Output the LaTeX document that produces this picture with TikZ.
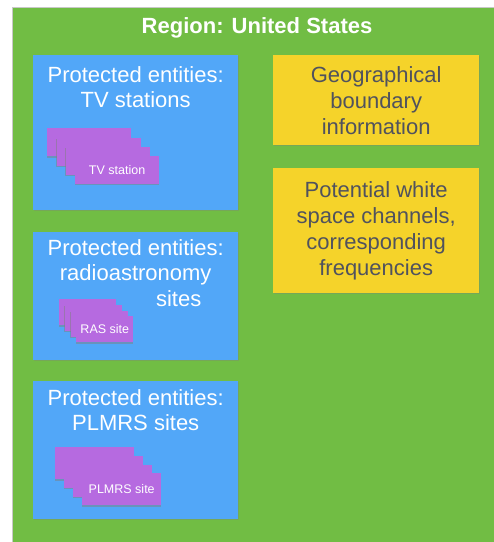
\documentclass[tikz,border=0pt]{standalone}
\usepackage{fontspec}
\setmainfont{Liberation Sans}
\usetikzlibrary{positioning, shadows}
\definecolor{regionGreen}{RGB}{113, 189, 68}
\definecolor{entityBlue}{RGB}{82, 167, 248}
\definecolor{infoYellow}{RGB}{245, 211, 42}
\definecolor{cardPurple}{RGB}{182, 106, 224}
\definecolor{textDark}{RGB}{80, 82, 94}
\definecolor{edgeGray}{RGB}{200, 200, 200}

\begin{document}
\begin{tikzpicture}[
    x=1pt, y=-1pt,
    region/.style={
        rectangle,
        fill=regionGreen,
        draw=edgeGray,
        line width=0.8pt
    },
    entitybox/.style={
        rectangle,
        anchor=north west,
        inner sep=0pt,
        minimum width=205pt,
        fill=entityBlue,
        drop shadow={shadow xshift=0.6pt, shadow yshift=-1.2pt, opacity=0.35}
    },
    entitytitle/.style={
        anchor=north,
        inner sep=0pt,
        align=center,
        text=white,
        font=\fontsize{22}{25.5}\selectfont
    },
    infobox/.style={
        rectangle,
        anchor=north west,
        inner sep=0pt,
        minimum width=206pt,
        align=center,
        fill=infoYellow,
        text=textDark,
        font=\fontsize{22}{26}\selectfont,
        drop shadow={shadow xshift=0.6pt, shadow yshift=-1.2pt, opacity=0.35}
    },
    card/.style={
        rectangle,
        anchor=north west,
        inner sep=0pt,
        fill=cardPurple,
        text=white,
        font=\fontsize{12.5}{14}\selectfont,
        drop shadow={shadow xshift=-0.6pt, shadow yshift=-1.3pt, opacity=0.5}
    },
    tvcard/.style={card, minimum width=84pt, minimum height=28pt},
    rascard/.style={card, minimum width=57pt, minimum height=26pt},
    plmrscard/.style={card, minimum width=79pt, minimum height=32pt}
]
\useasboundingbox (0,0) rectangle (494,542);

% Region background
\fill[white] (0,0) rectangle (494,542);
\node[region, anchor=north west, minimum width=484pt, minimum height=537pt] (us) at (11.5,7) {};
\node[anchor=base, inner sep=0pt, text=white, font=\fontsize{22}{25}\selectfont\bfseries] (usname) at (257,33) {Region: United States};

% Protected entities
\node[entitybox, minimum height=155pt] (tvbox) at (33,55) {};
\node[entitybox, minimum height=128pt] (rasbox) at (33,232) {};
\node[entitybox, minimum height=138pt] (plmrsbox) at (33,381) {};

\node[entitytitle] (tvtitle) at ([yshift=-11pt]tvbox.north) {Protected entities:\\TV stations};
\node[entitytitle] (rastitle) at ([yshift=-7pt]rasbox.north) {Protected entities:\\radioastronomy\\\hspace*{86pt}sites};
\node[entitytitle] (plmrstitle) at ([yshift=-8pt]plmrsbox.north) {Protected entities:\\PLMRS sites};

% Stacked cards
\node[tvcard] (tv1) at (47,128) {};
\node[tvcard] (tv2) at ([shift={(9.3,9.3)}]tv1.north west) {};
\node[tvcard] (tv3) at ([shift={(9.3,9.3)}]tv2.north west) {};
\node[tvcard] (tv4) at ([shift={(9.3,9.3)}]tv3.north west) {TV station};

\node[rascard] (ras1) at (59,299) {};
\node[rascard] (ras2) at ([shift={(5.7,5.7)}]ras1.north west) {};
\node[rascard] (ras3) at ([shift={(5.7,5.7)}]ras2.north west) {};
\node[rascard] (ras4) at ([shift={(5.7,5.7)}]ras3.north west) {RAS site};

\node[plmrscard] (plmrs1) at (55,447) {};
\node[plmrscard] (plmrs2) at ([shift={(9,8.7)}]plmrs1.north west) {};
\node[plmrscard] (plmrs3) at ([shift={(9,8.7)}]plmrs2.north west) {};
\node[plmrscard] (plmrs4) at ([shift={(9,8.7)}]plmrs3.north west) {PLMRS site};

% Region information
\node[infobox, minimum height=90pt] (geobox) at (273,55) {Geographical\\boundary\\information};
\node[infobox, minimum height=125pt] (chanbox) at (273,168) {Potential white\\space channels,\\corresponding\\frequencies};

\end{tikzpicture}
\end{document}
